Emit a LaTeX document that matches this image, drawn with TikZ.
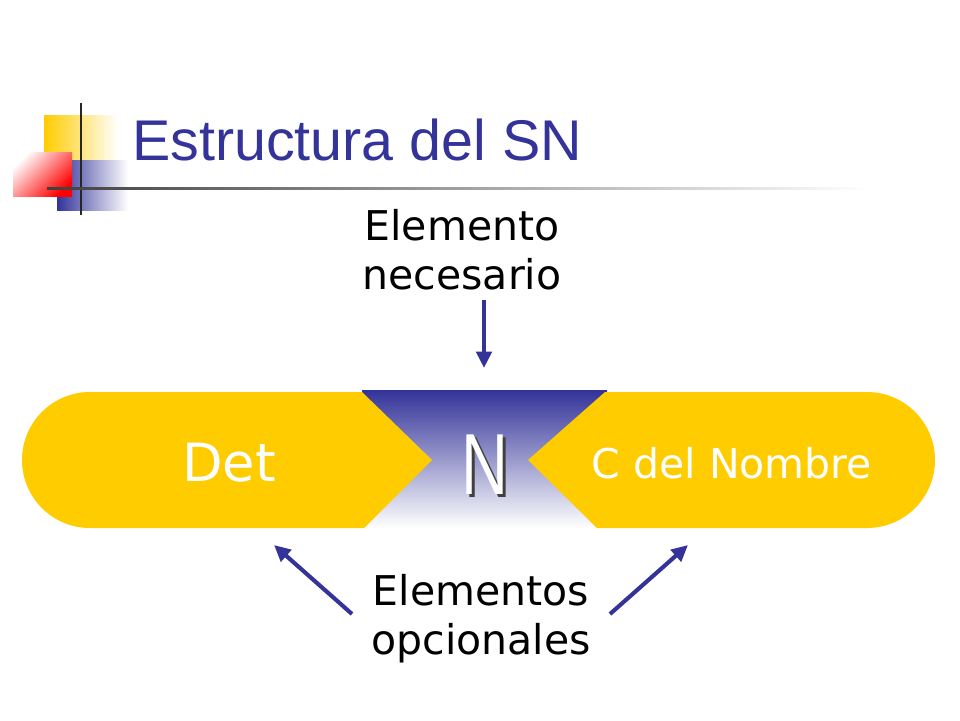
\documentclass[tikz,border=0pt]{standalone}
\usepackage{fontspec}
\setmainfont{DejaVu Sans}
\newfontfamily\titlefont{Liberation Sans}
\usetikzlibrary{arrows.meta,positioning}
\definecolor{slideblue}{RGB}{51,51,153}
\definecolor{slideyellow}{RGB}{255,204,0}
\definecolor{slidered}{RGB}{255,0,0}
\tikzset{
  pointer/.style={-{Triangle[length=14pt,width=13pt]},line width=3.5pt,draw=slideblue},
  plaintext/.style={font=\fontsize{35}{42}\selectfont,align=center,text=black},
  bandtext/.style={text=white}
}
\begin{document}
\begin{tikzpicture}[x=0.03cm,y=-0.03cm]
  \useasboundingbox (0,0) rectangle (960,720);
  % logo
  \shade[left color=slideyellow,right color=white] (44,115) rectangle (118,160);
  \shade[left color=slideblue,right color=white] (57,160) rectangle (128,210);
  \shade[left color=white,right color=slidered,shading angle=45] (13,152) rectangle (72,196);
  \draw[line width=2pt,black!85] (81,103) -- (81,215);
  \shade[left color=black!75,right color=white] (47,187) rectangle (870,189.5);
  \node[anchor=base west,text=slideblue,inner sep=0pt,font=\titlefont\fontsize{49}{54}\selectfont] (title) at (132,160) {Estructura del SN};
  % band
  \shade[top color=slideblue,bottom color=white] (362,390) rectangle (607,528);
  \fill[slideyellow] (362,392) -- (432,460) -- (364,528) -- (90,528) arc[start angle=90,end angle=270,radius=68] -- cycle;
  \fill[slideyellow] (605,392) -- (528,460) -- (597,528) -- (867,528) arc[start angle=90,end angle=-90,radius=68] -- cycle;
  \node[bandtext,font=\fontsize{45}{50}\selectfont] (det) at (229,463) {Det};
  \node[bandtext,font=\fontsize{35}{40}\selectfont] (cdn) at (732,463) {C del Nombre};
  \node[text=black!75,xscale=0.75,font=\titlefont\fontsize{74}{78}\selectfont] at (488,468) {N};
  \node[text=white,xscale=0.75,font=\titlefont\fontsize{74}{78}\selectfont] (n) at (485,465) {N};
  % labels
  \node[plaintext] (nec) at (462,250) {Elemento\\necesario};
  \node[plaintext] (opc) at (481,619) {Elementos\\opcionales};
  \coordinate (necend) at (484,368);
  \coordinate (detend) at (274,545);
  \coordinate (cdnend) at (688,545);
  \draw[pointer] (484,300) -- (necend);
  \draw[pointer] (352,614) -- (detend);
  \draw[pointer] (610,614) -- (cdnend);
\end{tikzpicture}
\end{document}
